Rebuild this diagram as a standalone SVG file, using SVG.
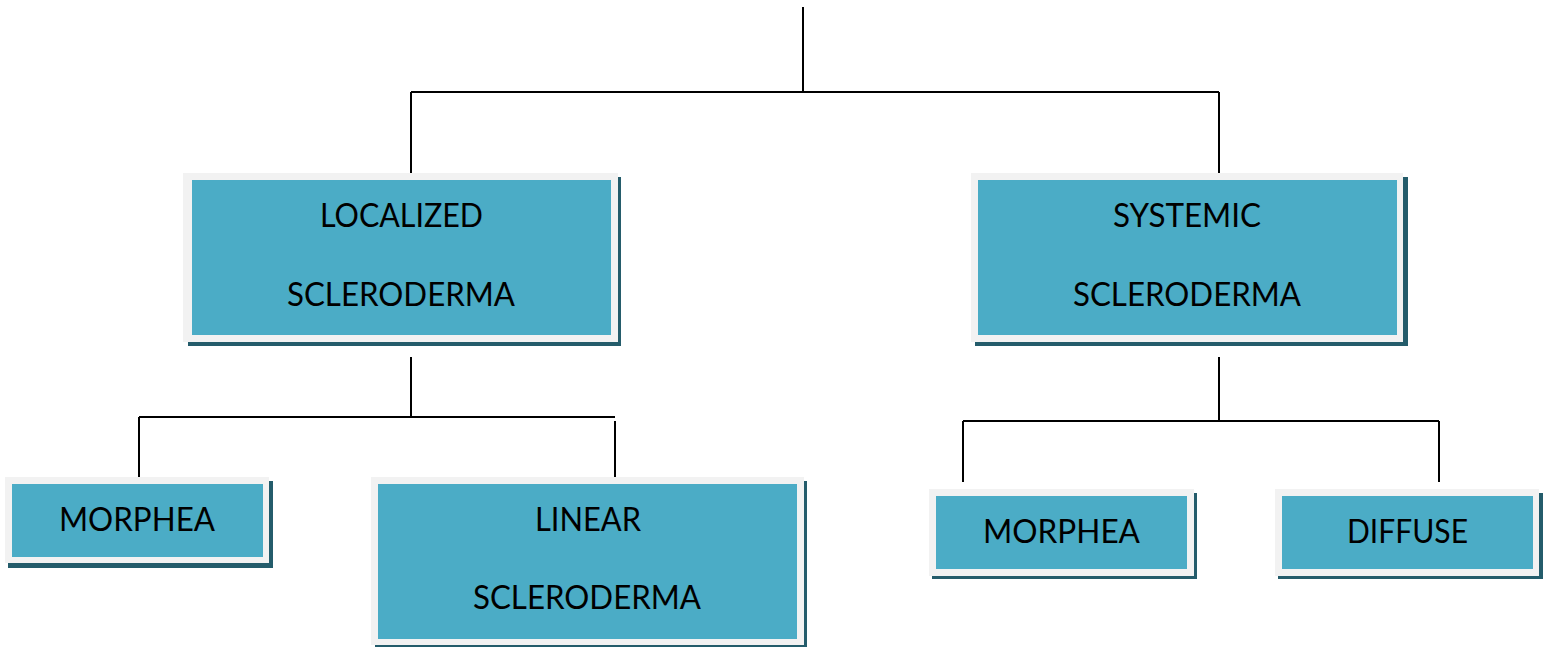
<svg xmlns="http://www.w3.org/2000/svg" width="1551" height="647" viewBox="0 0 1551 647">
<style>
.sh{fill:#245C6B}
.fr{fill:#F2F2F2}
.in{fill:#4BACC6}
.t{font-family:Lato,"Liberation Sans",sans-serif;font-size:33px;fill:#000;text-anchor:start}
.c{fill:none;stroke:#000;stroke-width:2}
</style>
<rect width="1551" height="647" fill="#fff"/>
<g id="connectors">
<path class="c" d="M803 7V92M411 92H1219M411 92V177M1219 92V177"/>
<path class="c" d="M411 357V417M139 417H615M139 417V477M615 421V477"/>
<path class="c" d="M1219 357V421M963 421H1439M963 421V482M1439 421V482"/>
</g>
<g id="localized">
<rect class="sh" x="188" y="177" width="433" height="169"/>
<rect class="fr" x="183" y="173" width="435" height="169"/>
<rect class="in" x="192" y="180" width="419" height="155"/>
<text class="t" x="320" y="227" textLength="163" lengthAdjust="spacingAndGlyphs">LOCALIZED</text>
<text class="t" x="287" y="306" textLength="228" lengthAdjust="spacingAndGlyphs">SCLERODERMA</text>
</g>
<g id="systemic">
<rect class="sh" x="975" y="177" width="433" height="169"/>
<rect class="fr" x="971" y="173" width="432" height="169"/>
<rect class="in" x="978" y="180" width="419" height="155"/>
<text class="t" x="1113" y="227" textLength="148" lengthAdjust="spacingAndGlyphs">SYSTEMIC</text>
<text class="t" x="1073" y="306" textLength="228" lengthAdjust="spacingAndGlyphs">SCLERODERMA</text>
</g>
<g id="morphea-left">
<rect class="sh" x="8" y="481" width="265" height="87"/>
<rect class="fr" x="5" y="477" width="264" height="86"/>
<rect class="in" x="12" y="484" width="251" height="73"/>
<text class="t" x="59" y="531" textLength="156" lengthAdjust="spacingAndGlyphs">MORPHEA</text>
</g>
<g id="linear">
<rect class="sh" x="375" y="481" width="432" height="170"/>
<rect class="fr" x="371" y="477" width="433" height="168"/>
<rect class="in" x="378" y="484" width="419" height="155"/>
<text class="t" x="535" y="531" textLength="106" lengthAdjust="spacingAndGlyphs">LINEAR</text>
<text class="t" x="473" y="609" textLength="228" lengthAdjust="spacingAndGlyphs">SCLERODERMA</text>
</g>
<g id="morphea-right">
<rect class="sh" x="932" y="493" width="265" height="86"/>
<rect class="fr" x="929" y="489" width="265" height="87"/>
<rect class="in" x="936" y="496" width="251" height="73"/>
<text class="t" x="983" y="543" textLength="157" lengthAdjust="spacingAndGlyphs">MORPHEA</text>
</g>
<g id="diffuse">
<rect class="sh" x="1278" y="493" width="265" height="86"/>
<rect class="fr" x="1275" y="489" width="264" height="87"/>
<rect class="in" x="1282" y="496" width="251" height="73"/>
<text class="t" x="1347" y="543" textLength="121" lengthAdjust="spacingAndGlyphs">DIFFUSE</text>
</g>
</svg>
